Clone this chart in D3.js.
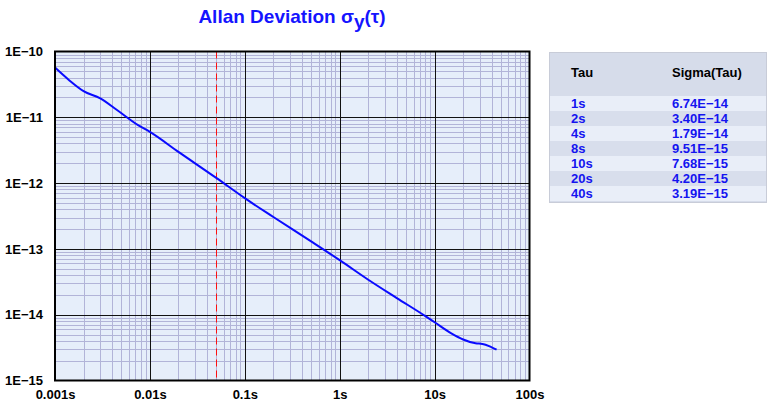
<!DOCTYPE html>
<html><head><meta charset="utf-8">
<script src="https://cdn.jsdelivr.net/npm/d3@7"></script>
<style>body{margin:0;background:#fff;} svg{display:block;font-family:"Liberation Sans",Arial,sans-serif;}</style>
</head><body>
<svg id="c" width="777" height="410"></svg>
<script>
// ---- data ----
const tauValues = [0.001, 0.0014, 0.002, 0.003, 0.0045, 0.0075, 0.01, 0.02, 0.05, 0.1, 0.2, 0.5, 1, 2, 4, 8, 10, 15, 20, 27, 32, 40, 45];
const sigmaValues = [5.7e-11, 3.7e-11, 2.5e-11, 1.94e-11, 1.29e-11, 7.6e-12, 6.0e-12, 2.98e-12, 1.2e-12, 5.9e-13, 3.05e-13, 1.3e-13, 6.74e-14, 3.40e-14, 1.79e-14, 9.51e-15, 7.68e-15, 5.2e-15, 4.20e-15, 3.67e-15, 3.6e-15, 3.19e-15, 2.95e-15];
const xTickValues = [0.001, 0.01, 0.1, 1, 10, 100];
const xTickLabels = ["0.001s", "0.01s", "0.1s", "1s", "10s", "100s"];
const yTickValues = [1e-10, 1e-11, 1e-12, 1e-13, 1e-14, 1e-15];
const yTickLabels = ["1E\u221210", "1E\u221211", "1E\u221212", "1E\u221213", "1E\u221214", "1E\u221215"];
const markerTau = 0.05;
const tableTau = ["1s", "2s", "4s", "8s", "10s", "20s", "40s"];
const tableSigma = ["6.74E\u221214", "3.40E\u221214", "1.79E\u221214", "9.51E\u221215", "7.68E\u221215", "4.20E\u221215", "3.19E\u221215"];

const svg = d3.select("#c");
const L = 55, R = 529.5, T = 51.5, B = 380.5;
const x = d3.scaleLog().domain([0.001, 100]).range([L, R]);
const y = d3.scaleLog().domain([1e-15, 1e-10]).range([B, T]);

// background
svg.append("rect").attr("x", L).attr("y", T).attr("width", R - L).attr("height", B - T).attr("fill", "#e6eefa");

// minor grid
const minorX = [], minorY = [];
for (let d = -3; d < 2; d++) for (let m = 2; m <= 9; m++) minorX.push(m * Math.pow(10, d));
for (let d = -15; d < -10; d++) for (let m = 2; m <= 9; m++) minorY.push(m * Math.pow(10, d));
const g = svg.append("g");
g.selectAll(".mx").data(minorX).join("line")
  .attr("x1", d => Math.round(x(d)) + 0.5).attr("x2", d => Math.round(x(d)) + 0.5)
  .attr("y1", T).attr("y2", B).attr("stroke", "#b2b4d8").attr("stroke-width", 1);
g.selectAll(".my").data(minorY).join("line")
  .attr("y1", d => Math.round(y(d)) + 0.5).attr("y2", d => Math.round(y(d)) + 0.5)
  .attr("x1", L).attr("x2", R).attr("stroke", "#b2b4d8").attr("stroke-width", 1);
// major grid
g.selectAll(".Mx").data(xTickValues.slice(1, -1)).join("line")
  .attr("x1", d => Math.round(x(d)) + 0.5).attr("x2", d => Math.round(x(d)) + 0.5)
  .attr("y1", T).attr("y2", B).attr("stroke", "#111").attr("stroke-width", 1);
g.selectAll(".My").data(yTickValues.slice(1, -1)).join("line")
  .attr("y1", d => Math.round(y(d)) + 0.5).attr("y2", d => Math.round(y(d)) + 0.5)
  .attr("x1", L).attr("x2", R).attr("stroke", "#111").attr("stroke-width", 1);

// marker line
svg.append("line").attr("x1", Math.round(x(markerTau)) + 0.5).attr("x2", Math.round(x(markerTau)) + 0.5)
  .attr("y1", T).attr("y2", B).attr("stroke", "#ff1010").attr("stroke-width", 1).attr("stroke-dasharray", "7,4");

// curve
const line = d3.line().x((d, i) => x(tauValues[i])).y(d => y(d)).curve(d3.curveMonotoneX);
svg.append("path").datum(sigmaValues).attr("d", line).attr("fill", "none").attr("stroke", "#0a0aff").attr("stroke-width", 2);

// frame
svg.append("rect").attr("x", L).attr("y", T).attr("width", R - L).attr("height", B - T)
  .attr("fill", "none").attr("stroke", "#000").attr("stroke-width", 2);

// axes
const xa = svg.append("g").attr("transform", `translate(0,${B})`)
  .call(d3.axisBottom(x).tickValues(xTickValues).tickFormat((d, i) => xTickLabels[i]).tickSize(0).tickPadding(9));
xa.select(".domain").remove();
xa.selectAll("text").attr("font-size", 13).attr("font-weight", "bold").attr("fill", "#000").attr("font-family", "Liberation Sans, Arial, sans-serif");
const ya = svg.append("g").attr("transform", `translate(${L},0)`)
  .call(d3.axisLeft(y).tickValues(yTickValues).tickFormat((d, i) => yTickLabels[i]).tickSize(0).tickPadding(12));
ya.select(".domain").remove();
ya.selectAll("text").attr("font-size", 13).attr("font-weight", "bold").attr("fill", "#000").attr("font-family", "Liberation Sans, Arial, sans-serif");

// title
const t = svg.append("text").attr("x", 292).attr("y", 23).attr("text-anchor", "middle")
  .attr("font-size", 19).attr("font-weight", "bold").attr("fill", "#1414ff");
t.append("tspan").text("Allan Deviation \u03c3");
t.append("tspan").attr("dy", 5).attr("font-size", 19).text("y");
t.append("tspan").attr("dy", -5).text("(\u03c4)");

// table
const tx = 549, ty = 52, tw = 217, th = 150;
svg.append("rect").attr("x", tx + 0.5).attr("y", ty + 0.5).attr("width", tw).attr("height", th)
  .attr("fill", "#d6dcea").attr("stroke", "#c8ccd8");
const rowH = 15, row0 = 96;
svg.selectAll(".band").data(tableTau).join("rect")
  .attr("x", tx + 1).attr("width", tw - 1)
  .attr("y", (d, i) => row0 + i * rowH).attr("height", rowH)
  .attr("fill", (d, i) => i % 2 === 0 ? "#e9eef8" : "#d8deec");
svg.append("text").attr("x", 571).attr("y", 77).text("Tau").attr("font-size", 13).attr("font-weight", "bold").attr("fill", "#000");
svg.append("text").attr("x", 672).attr("y", 77).text("Sigma(Tau)").attr("font-size", 13).attr("font-weight", "bold").attr("fill", "#000");
svg.selectAll(".tt").data(tableTau).join("text")
  .attr("x", 571).attr("y", (d, i) => row0 + i * rowH + 12).text(d => d)
  .attr("font-size", 13).attr("font-weight", "bold").attr("fill", "#1414f0");
svg.selectAll(".ts").data(tableSigma).join("text")
  .attr("x", 672).attr("y", (d, i) => row0 + i * rowH + 12).text(d => d)
  .attr("font-size", 13).attr("font-weight", "bold").attr("fill", "#1414f0");
</script>
</body></html>
